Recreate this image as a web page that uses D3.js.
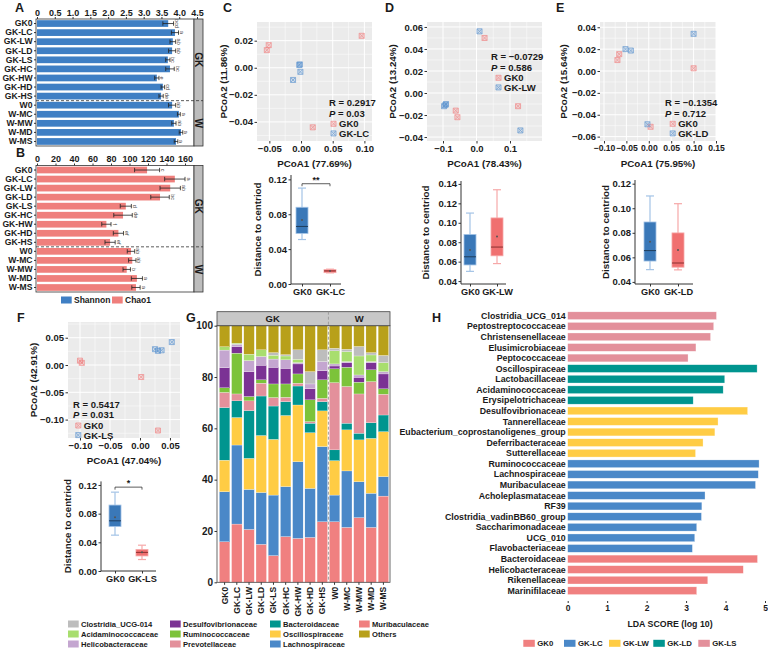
<!DOCTYPE html>
<html>
<head>
<meta charset="utf-8">
<script src="https://cdn.jsdelivr.net/npm/d3@7"></script>
<style>
  body { margin: 0; background: #fff; }
  svg text { font-family: "Liberation Sans", Arial, sans-serif; font-weight: bold; fill: #1a1a1a; }
</style>
</head>
<body>
<svg id="fig" width="768" height="649"></svg>
<script>
// ---- data: A / B alpha diversity ----
const groups = ["GK0","GK-LC","GK-LW","GK-LD","GK-LS","GK-HC","GK-HW","GK-HD","GK-HS","W0","W-MC","W-MW","W-MD","W-MS"];
const shannon = [3.69,3.88,3.82,3.80,3.68,3.74,3.37,3.54,3.49,3.80,3.99,3.85,4.05,3.91];
const shannonErr = [0.15,0.10,0.08,0.10,0.06,0.12,0.06,0.05,0.06,0.10,0.04,0.06,0.05,0.05];
const shannonSig = ["bcd","a","ab","ab","bc","bc","e","cd","de","ab","a","ab","a","a"];
const shannonTicks = [0,0.5,1,1.5,2,2.5,3,3.5,4,4.5];
const chao1 = [119,149,144,133,96,93,75,88,79,101.6,103,97,108,107];
const chao1Err = [13.5,11,11,10,6,10,5,5.5,5.5,4,4,4,6,4.5];
const chao1Sig = ["c","a","ab","bc","d","de","f","ef","ef","ab","ab","b","a","a"];
const chao1Ticks = [0,20,40,60,80,100,120,140,160];

// ---- data: PCoA points [PCoA1, PCoA2] ----
const pcoaC_GK0 = [[-0.054,0.013],[-0.051,0.0167],[0.0185,-0.044],[0.0957,0.0236]];
const pcoaC_LC  = [[-0.0027,0.002],[-0.001,-0.003],[-0.0126,-0.009],[-0.002,0.0025]];
const pcoaD_GK0 = [[0.024,0.05],[-0.062,-0.016],[-0.057,-0.022],[0.124,-0.012]];
const pcoaD_LW  = [[0.009,0.056],[-0.091,-0.010],[-0.097,-0.012],[-0.093,-0.011],[0.131,-0.034]];
const pcoaE_GK0 = [[-0.070,0.010],[-0.066,0.0154],[0.100,0.0025],[0.004,-0.051]];
const pcoaE_LD  = [[-0.052,0.020],[-0.040,0.0187],[0.100,0.034],[-0.003,-0.0487]];
const pcoaF_GK0 = [[-0.100,0.008],[-0.097,0.004],[0.002,-0.022],[0.030,-0.120]];
const pcoaF_LS  = [[0.025,0.029],[0.030,0.026],[0.036,0.027],[0.053,0.042]];

// ---- data: distance to centroid [low, q1, median, q3, high, mean] ----
const distC_GK0 = [0.051,0.058,0.066,0.088,0.110,0.0735];
const distC_LC  = [0.0128,0.013,0.015,0.0165,0.017,0.015];
const distD_GK0 = [0.050,0.0566,0.065,0.088,0.110,0.072];
const distD_LW  = [0.058,0.066,0.075,0.105,0.134,0.086];
const distE_GK0 = [0.050,0.057,0.0655,0.0888,0.110,0.0727];
const distE_LD  = [0.0498,0.052,0.0554,0.0799,0.1037,0.066];
const distF_GK0 = [0.050,0.062,0.070,0.092,0.110,0.075];
const distF_LS  = [0.016,0.021,0.026,0.030,0.036,0.026];

// ---- data: G relative abundance (%) per sample, same order as groups ----
const taxa = ["Muribaculaceae","Lachnospiraceae","Oscillospiraceae","Bacteroidaceae","Prevotellaceae","Ruminococcaceae","Desulfovibrionaceae","Helicobacteraceae","Acidaminococcaceae","Clostridia_UCG-014","Others"];
const taxaColors = ["#F08080","#4A88C8","#FFCC44","#00958F","#E3909B","#7CC33A","#7B3294","#C4A6D0","#A8DE6E","#BDBDBD","#B8A01A"];
const relMurib   = [15.8,22.7,20.6,14.8,10.4,17.8,17.1,17.5,23.6,23.6,21.4,25.2,21.4,33.6];
const relLachno  = [19.5,30.8,15.6,20.2,23.6,19.5,29.9,19.1,29.3,10.4,22.0,14.0,13.3,7.6];
const relOscillo = [12.3,10.7,12.1,22.2,21.7,27.7,22.1,21.7,13.9,13.4,16.0,16.3,21.4,17.5];
const relBactero = [20.5,6.5,18.6,15.4,13.0,5.4,7.4,3.7,3.6,4.2,2.6,2.6,6.1,6.5];
const relPrevo   = [5.9,2.7,3.8,5.0,3.3,1.7,1.1,0.6,1.3,26.2,14.3,15.3,16.0,8.1];
const relRumino  = [1.8,15.9,1.7,1.3,5.3,5.2,3.6,8.5,7.2,5.4,7.5,4.6,4.6,2.1];
const relDesulfo = [7.8,2.6,9.7,5.7,6.5,6.1,3.9,4.3,3.6,1.1,1.8,1.9,2.8,5.8];
const relHelico  = [6.9,0.9,4.3,3.4,3.2,3.3,0.5,1.9,3.5,0.8,0.4,0.9,0.4,0.9];
const relAcidam  = [1.3,0.4,2.5,2.6,1.5,1.5,1.3,0,0,5.1,3.9,7.4,2.6,3.5];
const relClostr  = [0,0,0,0,1.0,0.5,3.7,4.8,4.6,1.0,0.9,3.7,0.9,2.8];
const relOthers  = [8.2,6.8,11.1,9.4,10.5,11.3,9.4,17.9,9.4,8.8,9.2,8.1,10.5,11.6];
const legendOrder = ["Clostridia_UCG-014","Acidaminococcaceae","Helicobacteraceae","Desulfovibrionaceae","Ruminococcaceae","Prevotellaceae","Bacteroidaceae","Oscillospiraceae","Lachnospiraceae","Muribaculaceae","Others"];

// ---- data: H LEfSe ----
const ldaTaxa = ["Clostridia_UCG_014","Peptostreptococcaceae","Christensenellaceae","Elusimicrobiaceae","Peptococcaceae",
  "Oscillospiraceae","Lactobacillaceae","Acidaminococcaceae","Erysipelotrichaceae",
  "Desulfovibrionaceae","Tannerellaceae","Eubacterium_coprostanoligenes_group","Deferribacteraceae","Sutterellaceae",
  "Ruminococcaceae","Lachnospiraceae","Muribaculaceae","Acholeplasmataceae","RF39","Clostridia_vadinBB60_group","Saccharimonadaceae","UCG_010","Flavobacteriaceae",
  "Bacteroidaceae","Helicobacteraceae","Rikenellaceae","Marinifilaceae"];
const ldaScore = [3.77,3.70,3.62,3.25,3.05, 4.80,3.98,3.94,3.18, 4.56,3.81,3.73,3.43,3.24,
  4.85,4.83,4.76,3.48,3.40,3.39,3.27,3.22,3.16, 4.81,4.45,3.55,3.27];
const ldaGroup = ["GK-LS","GK-LS","GK-LS","GK-LS","GK-LS","GK-LD","GK-LD","GK-LD","GK-LD",
  "GK-LW","GK-LW","GK-LW","GK-LW","GK-LW","GK-LC","GK-LC","GK-LC","GK-LC","GK-LC","GK-LC","GK-LC","GK-LC","GK-LC",
  "GK0","GK0","GK0","GK0"];
const ldaLegend = ["GK0","GK-LC","GK-LW","GK-LD","GK-LS"];
const ldaColors = ["#F08080","#4A88C8","#FFCC44","#00958F","#E3909B"];

const svg = d3.select("#fig");
const fmt2 = d3.format(".2f"), fmt1 = d3.format(".1f");
const PINK = "#F08080", BLUE = "#5B93CF";

function styleAxis(ax, size) {
  ax.select(".domain").remove();
  ax.selectAll("line").attr("stroke", "#333");
  ax.selectAll("text").attr("font-size", size);
  return ax;
}
function panelLabel(t, x, y) {
  svg.append("text").attr("x", x).attr("y", y).attr("font-size", 12.5).text(t);
}

// ================= A / B =================
function hbar(cfg) {
  const g = svg.append("g");
  const x = d3.scaleLinear().domain(cfg.domain).range(cfg.range);
  const y = d3.scaleBand().domain(groups).range([cfg.top, cfg.bottom]).paddingInner(0.26).paddingOuter(0.13);
  const cy = d => y(d) + y.bandwidth() / 2;
  const hi = i => x(cfg.values[i] + cfg.err[i]);
  const lo = i => x(cfg.values[i] - cfg.err[i]);

  g.selectAll(".bar").data(groups).join("rect")
    .attr("x", x(0)).attr("y", d => y(d))
    .attr("width", (d, i) => x(cfg.values[i]) - x(0))
    .attr("height", y.bandwidth()).attr("fill", cfg.color);

  const eb = g.selectAll(".eb").data(groups).join("g").attr("stroke", "#222").attr("stroke-width", 0.8);
  eb.append("line").attr("x1", (d, i) => lo(i)).attr("x2", (d, i) => hi(i)).attr("y1", cy).attr("y2", cy);
  eb.append("line").attr("x1", (d, i) => lo(i)).attr("x2", (d, i) => lo(i)).attr("y1", d => cy(d) - 2.2).attr("y2", d => cy(d) + 2.2);
  eb.append("line").attr("x1", (d, i) => hi(i)).attr("x2", (d, i) => hi(i)).attr("y1", d => cy(d) - 2.2).attr("y2", d => cy(d) + 2.2);

  g.selectAll(".sig").data(groups).join("text")
    .attr("transform", (d, i) => `translate(${hi(i) + 1.5},${cy(d)}) rotate(90)`)
    .attr("text-anchor", "middle").attr("font-size", 5.5)
    .style("fill", "#444").style("font-weight", "normal")
    .text((d, i) => cfg.sig[i]);

  // panel frame + strip
  g.append("rect").attr("x", 36).attr("y", cfg.top).attr("width", 158).attr("height", cfg.bottom - cfg.top)
    .attr("fill", "none").attr("stroke", "#333").attr("stroke-width", 0.8);
  g.append("rect").attr("x", 194).attr("y", cfg.top).attr("width", 9).attr("height", cfg.bottom - cfg.top)
    .attr("fill", "#BDBDBD").attr("stroke", "#333").attr("stroke-width", 0.8);
  const splitY = (cy("GK-HS") + cy("W0")) / 2;
  g.append("line").attr("x1", 36).attr("x2", 203).attr("y1", splitY).attr("y2", splitY)
    .attr("stroke", "#333").attr("stroke-width", 0.8).attr("stroke-dasharray", "3,2");
  [["GK", (cfg.top + splitY) / 2], ["W", (splitY + cfg.bottom) / 2]].forEach(([t, yy]) => {
    g.append("text").attr("transform", `translate(198.5,${yy}) rotate(90)`)
      .attr("text-anchor", "middle").attr("dominant-baseline", "central").attr("font-size", 10).text(t);
  });

  styleAxis(g.append("g").attr("transform", `translate(0,${cfg.top})`)
    .call(d3.axisTop(x).tickValues(cfg.ticks).tickSize(2).tickPadding(1.5).tickFormat(cfg.fmt)), 9);
  styleAxis(g.append("g").attr("transform", "translate(36,0)")
    .call(d3.axisLeft(y).tickSize(2).tickPadding(1.5)), 8.6);
}

hbar({domain: [0, 4.5], range: [37, 197], top: 19, bottom: 146, values: shannon, err: shannonErr, sig: shannonSig,
  color: "#3F7FC4", ticks: shannonTicks, fmt: d => d === 0 ? "0" : fmt1(d)});
hbar({domain: [0, 160], range: [37, 185], top: 165.5, bottom: 292, values: chao1, err: chao1Err, sig: chao1Sig,
  color: "#EF7F7C", ticks: chao1Ticks, fmt: d3.format("d")});
panelLabel("A", 15, 12);
panelLabel("B", 16, 157);

// legend A/B
[["Shannon", "#3F7FC4", 61], ["Chao1", "#EF7F7C", 112]].forEach(([t, c, lx]) => {
  svg.append("rect").attr("x", lx).attr("y", 296.5).attr("width", 10.7).attr("height", 7).attr("fill", c);
  svg.append("text").attr("x", lx + 13).attr("y", 303.3).attr("font-size", 8.5).text(t);
});

// ================= PCoA scatter =================
function markerPath(cx, cy) {
  const s = 2.5;
  return `M${cx - s},${cy - s}h${2 * s}v${2 * s}h${-2 * s}Z M${cx - s},${cy - s}L${cx + s},${cy + s} M${cx + s},${cy - s}L${cx - s},${cy + s}`;
}
function minorTicks(t, dom) {
  const step = t[1] - t[0];
  const lo = Math.min(...dom), hi = Math.max(...dom);
  const m = [t[0] - step / 2, ...t.map(v => v + step / 2)];
  return m.filter(v => v > lo && v < hi);
}
function scatter(cfg) {
  const g = svg.append("g");
  const x = d3.scaleLinear().domain(cfg.xd).range([cfg.x0, cfg.x1]);
  const y = d3.scaleLinear().domain(cfg.yd).range([cfg.y0, cfg.y1]);
  g.append("rect").attr("x", cfg.x0).attr("y", cfg.y0).attr("width", cfg.x1 - cfg.x0).attr("height", cfg.y1 - cfg.y0).attr("fill", "#EBEBEB");
  const grid = g.append("g").attr("stroke", "#fff");
  grid.selectAll(".vm").data(minorTicks(cfg.xt, cfg.xd)).join("line").attr("stroke-width", 0.5)
    .attr("x1", d => x(d)).attr("x2", d => x(d)).attr("y1", cfg.y0).attr("y2", cfg.y1);
  grid.selectAll(".hm").data(minorTicks(cfg.yt, cfg.yd)).join("line").attr("stroke-width", 0.5)
    .attr("y1", d => y(d)).attr("y2", d => y(d)).attr("x1", cfg.x0).attr("x2", cfg.x1);
  grid.selectAll(".vM").data(cfg.xt).join("line").attr("stroke-width", 1)
    .attr("x1", d => x(d)).attr("x2", d => x(d)).attr("y1", cfg.y0).attr("y2", cfg.y1);
  grid.selectAll(".hM").data(cfg.yt).join("line").attr("stroke-width", 1)
    .attr("y1", d => y(d)).attr("y2", d => y(d)).attr("x1", cfg.x0).attr("x2", cfg.x1);

  styleAxis(g.append("g").attr("transform", `translate(0,${cfg.y1})`)
    .call(d3.axisBottom(x).tickValues(cfg.xt).tickFormat(cfg.xf).tickSize(2.5).tickPadding(1.5)), cfg.xfs || 9.5);
  styleAxis(g.append("g").attr("transform", `translate(${cfg.x0},0)`)
    .call(d3.axisLeft(y).tickValues(cfg.yt).tickFormat(fmt2).tickSize(2.5).tickPadding(1.5)), 9.5);

  g.append("text").attr("x", (cfg.x0 + cfg.x1) / 2).attr("y", cfg.y1 + 25.5).attr("text-anchor", "middle")
    .attr("font-size", 9.8).text(cfg.xTitle);
  g.append("text").attr("transform", `translate(${cfg.yTitleX},${(cfg.y0 + cfg.y1) / 2}) rotate(-90)`)
    .attr("text-anchor", "middle").attr("dominant-baseline", "central").attr("font-size", 9.8).text(cfg.yTitle);

  [[cfg.ptsA, PINK], [cfg.ptsB, BLUE]].forEach(([pts, c]) => {
    g.append("g").selectAll("path").data(pts).join("path")
      .attr("d", d => markerPath(x(d[0]), y(d[1])))
      .attr("fill", c).attr("fill-opacity", 0.25).attr("stroke", c).attr("stroke-width", 0.9).attr("opacity", 0.75);
  });

  const s = cfg.stat;
  const t1 = g.append("text").attr("x", s.x).attr("y", s.y).attr("font-size", 9.5);
  t1.append("tspan").text("R = " + cfg.R);
  const t2 = g.append("text").attr("x", s.x).attr("y", s.y + 10.6).attr("font-size", 9.5);
  t2.append("tspan").attr("font-style", "italic").text("P");
  t2.append("tspan").text(" = " + cfg.P);
  [[cfg.names[0], PINK, 0], [cfg.names[1], BLUE, 1]].forEach(([n, c, k]) => {
    const yy = s.y + 17.8 + k * 9.6;
    g.append("path").attr("d", markerPath(s.mx, yy)).attr("fill", c).attr("fill-opacity", 0.25)
      .attr("stroke", c).attr("stroke-width", 0.9).attr("opacity", 0.75);
    g.append("text").attr("x", s.mx + 5.5).attr("y", yy + 3.4).attr("font-size", 9.5).text(n);
  });
}

scatter({x0: 257, x1: 372, y0: 22, y1: 141, xd: [-0.0695, 0.112], yd: [0.0338, -0.0541],
  xt: [-0.05, 0, 0.05, 0.10], yt: [0.02, 0, -0.02, -0.04], xf: fmt2,
  xTitle: "PCoA1 (77.69%)", yTitle: "PCoA2 (11.86%)", yTitleX: 223,
  ptsA: pcoaC_GK0, ptsB: pcoaC_LC, R: "0.2917", P: "0.03", names: ["GK0", "GK-LC"],
  stat: {x: 329, y: 106, mx: 333.5}});
scatter({x0: 427, x1: 542, y0: 22, y1: 141, xd: [-0.1478, 0.1955], yd: [0.0645, -0.0436],
  xt: [-0.1, 0, 0.1], yt: [0.06, 0.04, 0.02, 0, -0.02, -0.04], xf: fmt1,
  xTitle: "PCoA1 (78.43%)", yTitle: "PCoA2 (13.24%)", yTitleX: 392,
  ptsA: pcoaD_GK0, ptsB: pcoaD_LW, R: "\u22120.0729", P: "0.586", names: ["GK0", "GK-LW"],
  stat: {x: 491, y: 60, mx: 498.5}});
scatter({x0: 600, x1: 716, y0: 22, y1: 141, xd: [-0.1089, 0.15], yd: [0.0448, -0.064],
  xt: [-0.10, -0.05, 0, 0.05, 0.10, 0.15], yt: [0.04, 0.02, 0, -0.02, -0.04, -0.06], xf: fmt2, xfs: 8.6,
  xTitle: "PCoA1 (75.95%)", yTitle: "PCoA2 (15.64%)", yTitleX: 563,
  ptsA: pcoaE_GK0, ptsB: pcoaE_LD, R: "\u22120.1354", P: "0.712", names: ["GK0", "GK-LD"],
  stat: {x: 665, y: 106, mx: 672.7}});
scatter({x0: 68, x1: 180, y0: 322, y1: 438, xd: [-0.12, 0.0667], yd: [0.0788, -0.1337],
  xt: [-0.10, -0.05, 0, 0.05], yt: [0.05, 0, -0.05, -0.10], xf: fmt2,
  xTitle: "PCoA1 (47.04%)", yTitle: "PCoA2 (42.91%)", yTitleX: 33,
  ptsA: pcoaF_GK0, ptsB: pcoaF_LS, R: "0.5417", P: "0.031", names: ["GK0", "GK-LS"],
  stat: {x: 73, y: 407.7, mx: 78.3}});
panelLabel("C", 223, 12);
panelLabel("D", 385, 12);
panelLabel("E", 556, 12);
panelLabel("F", 17, 322);

// ================= box plots =================
function boxplot(cfg) {
  const g = svg.append("g");
  const y = d3.scaleLinear().domain(cfg.yd).range(cfg.yr);
  const x = d3.scalePoint().domain(cfg.cats).range([cfg.ax, cfg.ax + cfg.w]).padding(cfg.pad);
  const styles = [
    {fill: "#3A78B8", line: "#A3C3E6", med: "#1E3D5C"},
    {fill: "#F07070", line: "#F6A8A8", med: "#8A2E2E"}];
  cfg.stats.forEach((s, k) => {
    const cx = x(cfg.cats[k]), st = styles[k], hw = 6;
    g.append("line").attr("x1", cx).attr("x2", cx).attr("y1", y(s[0])).attr("y2", y(s[4]))
      .attr("stroke", st.line).attr("stroke-width", 1.2);
    [s[0], s[4]].forEach(v => g.append("line").attr("x1", cx - 4).attr("x2", cx + 4)
      .attr("y1", y(v)).attr("y2", y(v)).attr("stroke", st.line).attr("stroke-width", 1.2));
    g.append("rect").attr("x", cx - hw).attr("y", y(s[3])).attr("width", 2 * hw).attr("height", y(s[1]) - y(s[3]))
      .attr("fill", st.fill).attr("stroke", st.line).attr("stroke-width", 0.8);
    g.append("line").attr("x1", cx - hw).attr("x2", cx + hw).attr("y1", y(s[2])).attr("y2", y(s[2]))
      .attr("stroke", st.med).attr("stroke-width", 1);
    g.append("circle").attr("cx", cx).attr("cy", y(s[5])).attr("r", 1).attr("fill", "#555");
  });
  const axY = g.append("g").attr("transform", `translate(${cfg.ax},0)`)
    .call(d3.axisLeft(y).tickValues(cfg.yt).tickFormat(fmt2).tickSize(2.5).tickPadding(1.5));
  styleAxis(axY, 9.5);
  g.append("line").attr("x1", cfg.ax).attr("x2", cfg.ax).attr("y1", cfg.yr[1]).attr("y2", cfg.yr[0]).attr("stroke", "#333");
  const axX = g.append("g").attr("transform", `translate(0,${cfg.yr[0]})`)
    .call(d3.axisBottom(x).tickSize(2.5).tickPadding(2));
  styleAxis(axX, 9.2);
  g.append("line").attr("x1", cfg.ax).attr("x2", cfg.ax + cfg.w).attr("y1", cfg.yr[0]).attr("y2", cfg.yr[0]).attr("stroke", "#333");
  g.append("text").attr("transform", `translate(${cfg.titleX},${(cfg.yr[0] + cfg.yr[1]) / 2}) rotate(-90)`)
    .attr("text-anchor", "middle").attr("dominant-baseline", "central").attr("font-size", 9.8).text("Distance to centriod");
  if (cfg.sig) {
    const by = y(cfg.sig.v), x1 = x(cfg.cats[0]), x2 = x(cfg.cats[1]);
    g.append("path").attr("d", `M${x1},${by + 2.5}V${by}H${x2}V${by + 2.5}`).attr("fill", "none").attr("stroke", "#333").attr("stroke-width", 0.8);
    g.append("text").attr("x", (x1 + x2) / 2).attr("y", by - 1).attr("text-anchor", "middle").attr("font-size", 9).text(cfg.sig.t);
  }
}
boxplot({ax: 291, w: 50, pad: 0.393, yd: [0, 0.125], yr: [284, 175], yt: [0, 0.04, 0.08, 0.12],
  cats: ["GK0", "GK-LC"], stats: [distC_GK0, distC_LC], titleX: 257, sig: {v: 0.115, t: "**"}});
boxplot({ax: 461, w: 45, pad: 0.333, yd: [0.037, 0.143], yr: [284, 181], yt: [0.04, 0.06, 0.08, 0.10, 0.12, 0.14],
  cats: ["GK0", "GK-LW"], stats: [distD_GK0, distD_LW], titleX: 425});
boxplot({ax: 635, w: 58, pad: 0.536, yd: [0.0383, 0.123], yr: [284, 180], yt: [0.04, 0.06, 0.08, 0.10, 0.12],
  cats: ["GK0", "GK-LD"], stats: [distE_GK0, distE_LD], titleX: 605});
boxplot({ax: 101, w: 55, pad: 0.519, yd: [0, 0.125], yr: [571, 481.4], yt: [0, 0.04, 0.08, 0.12],
  cats: ["GK0", "GK-LS"], stats: [distF_GK0, distF_LS], titleX: 67, sig: {v: 0.117, t: "*"}});

// ================= G stacked bars =================
(function () {
  const g = svg.append("g");
  const taxaValues = [relMurib, relLachno, relOscillo, relBactero, relPrevo, relRumino, relDesulfo, relHelico, relAcidam, relClostr, relOthers];
  const rows = groups.map((s, i) => {
    const r = {sample: s};
    taxa.forEach((t, k) => { r[t] = taxaValues[k][i]; });
    return r;
  });
  const color = d3.scaleOrdinal().domain(taxa).range(taxaColors);
  const x = d3.scaleBand().domain(groups).range([218.5, 389.5]).paddingInner(0.14).paddingOuter(0.07);
  const y = d3.scaleLinear().domain([0, 100]).range([582.3, 325.7]);
  const series = d3.stack().keys(taxa)(rows);
  g.selectAll(".layer").data(series).join("g").attr("fill", d => color(d.key))
    .selectAll("rect").data(d => d).join("rect")
    .attr("x", d => x(d.data.sample)).attr("width", x.bandwidth())
    .attr("y", d => y(Math.min(d[1], 100))).attr("height", d => Math.max(0, y(d[0]) - y(Math.min(d[1], 100))))
    .attr("stroke", "#fff").attr("stroke-width", 0.25);

  g.append("rect").attr("x", 217).attr("y", 325.7).attr("width", 173).attr("height", 582.3 - 325.7)
    .attr("fill", "none").attr("stroke", "#444").attr("stroke-width", 0.8);
  g.append("rect").attr("x", 217).attr("y", 311.7).attr("width", 173).attr("height", 14)
    .attr("fill", "#C8C8C8").attr("stroke", "#444").attr("stroke-width", 0.8);
  const splitX = (x("GK-HS") + x.bandwidth() + x("W0")) / 2;
  g.append("line").attr("x1", splitX).attr("x2", splitX).attr("y1", 311.7).attr("y2", 582.3)
    .attr("stroke", "#999").attr("stroke-width", 0.9).attr("stroke-dasharray", "3,2");
  g.append("text").attr("x", (217 + splitX) / 2).attr("y", 322).attr("text-anchor", "middle").attr("font-size", 9.5).text("GK");
  g.append("text").attr("x", (splitX + 390) / 2).attr("y", 322).attr("text-anchor", "middle").attr("font-size", 9.5).text("W");

  styleAxis(g.append("g").attr("transform", "translate(217,0)")
    .call(d3.axisLeft(y).tickValues([0, 20, 40, 60, 80, 100]).tickSize(2.5).tickPadding(1.5)), 10);
  const ax = styleAxis(g.append("g").attr("transform", "translate(0,582.3)")
    .call(d3.axisBottom(x).tickSize(2.5).tickPadding(2)), 8.5);
  ax.selectAll("text").attr("transform", "rotate(-90)").attr("text-anchor", "end")
    .attr("x", -4.5).attr("y", 0).attr("dy", "0.35em");

  // legend
  legendOrder.forEach((t, k) => {
    const col = Math.floor(k / 3), row = k % 3;
    const lx = [68, 170, 270, 359][col], ly = 624 + row * 10;
    g.append("rect").attr("x", lx).attr("y", ly - 3.5).attr("width", 10.7).attr("height", 7).attr("fill", color(t));
    g.append("text").attr("x", lx + 13).attr("y", ly + 2.8).attr("font-size", 7.6).text(t);
  });
})();
panelLabel("G", 186, 322);

// ================= H LEfSe =================
(function () {
  const g = svg.append("g");
  const color = d3.scaleOrdinal().domain(ldaLegend).range(ldaColors);
  const x = d3.scaleLinear().domain([0, 5]).range([567.7, 765]);
  const y = d3.scaleBand().domain(ldaTaxa).range([310.4, 596]).paddingInner(0.27).paddingOuter(0.135);
  g.selectAll("rect").data(ldaTaxa).join("rect")
    .attr("x", x(0)).attr("y", d => y(d)).attr("height", y.bandwidth())
    .attr("width", (d, i) => x(ldaScore[i]) - x(0))
    .attr("fill", (d, i) => color(ldaGroup[i])).attr("stroke", "#fff").attr("stroke-opacity", 0.6).attr("stroke-width", 0.5);
  g.selectAll(".lab").data(ldaTaxa).join("text")
    .attr("x", 565.7).attr("y", d => y(d) + y.bandwidth() / 2).attr("dy", "0.35em")
    .attr("text-anchor", "end").attr("font-size", 8.8).text(d => d);
  styleAxis(g.append("g").attr("transform", "translate(0,601)")
    .call(d3.axisBottom(x).ticks(5).tickFormat(d3.format("d")).tickSize(2).tickPadding(1.5)), 8.5);
  g.append("text").attr("x", 670).attr("y", 626.5).attr("text-anchor", "middle").attr("font-size", 8.8).text("LDA SCORE (log 10)");
  ldaLegend.forEach((t, k) => {
    const lx = [523.3, 564, 609, 653.3, 698.3][k];
    g.append("rect").attr("x", lx).attr("y", 639.8).attr("width", 11.5).attr("height", 7).attr("fill", color(t));
    g.append("text").attr("x", lx + 14).attr("y", 646.3).attr("font-size", 7.8).text(t);
  });
})();
panelLabel("H", 432, 322);
</script>
</body>
</html>
